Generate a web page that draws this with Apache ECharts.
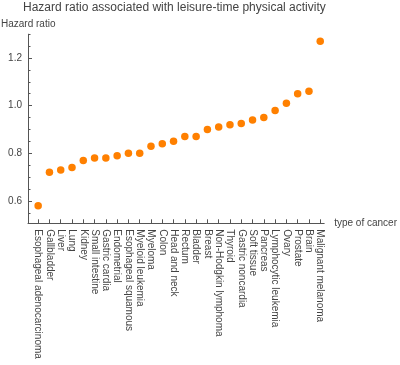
<!DOCTYPE html>
<html>
<head>
<meta charset="utf-8">
<script src="https://cdn.jsdelivr.net/npm/echarts@6/dist/echarts.min.js"></script>
<style>
html,body{margin:0;padding:0;background:#fff;}
#chart{width:400px;height:365px;}
</style>
</head>
<body>
<div id="chart"></div>
<script>
var categories = ["Esophageal adenocarcinoma","Gallbladder","Liver","Lung","Kidney","Small intestine","Gastric cardia","Endometrial","Esophageal squamous","Myeloid leukemia","Myeloma","Colon","Head and neck","Rectum","Bladder","Breast","Non-Hodgkin lymphoma","Thyroid","Gastric noncardia","Soft tissue","Pancreas","Lymphocytic leukemia","Ovary","Prostate","Brain","Malignant melanoma"];
var hazardRatios = [0.58,0.72,0.73,0.74,0.77,0.78,0.78,0.79,0.80,0.80,0.83,0.84,0.85,0.87,0.87,0.90,0.91,0.92,0.925,0.94,0.95,0.98,1.01,1.05,1.06,1.27];
var yMajorTicks = [0.6,0.8,1.0,1.2];
var yMinorTicks = [0.55,0.65,0.7,0.75,0.85,0.9,0.95,1.05,1.1,1.15,1.25,1.3];

var positions = categories.map(function(c,i){return i+1;});
var points = hazardRatios.map(function(v,i){return [positions[i], v];});

var axisColor = '#555';
var textColor = '#444';
var font = 'Liberation Sans, Arial, sans-serif';

var chart = echarts.init(document.getElementById('chart'), null, {renderer:'canvas'});
chart.setOption({
  animation:false,
  backgroundColor:'#fff',
  title:[
    {text:'Hazard ratio associated with leisure-time physical activity', left:23, top:1.5, padding:0,
     textStyle:{fontSize:12, fontWeight:'normal', color:textColor, fontFamily:font}},
    {text:'Hazard ratio', left:1, top:19, padding:0,
     textStyle:{fontSize:10, fontWeight:'normal', color:textColor, fontFamily:font}}
  ],
  grid:{left:28, right:75, top:34.2, bottom:141.7, containLabel:false},
  xAxis:{
    type:'value', min:0.1, max:26.35,
    name:'type of cancer', nameLocation:'end', nameGap:10,
    nameTextStyle:{fontSize:10, color:textColor, fontFamily:font},
    axisLine:{show:true, onZero:false, lineStyle:{color:axisColor, width:1}},
    axisTick:{show:true, inside:true, length:4, customValues:positions, lineStyle:{color:axisColor}},
    axisLabel:{show:true, rotate:-90, margin:6, fontSize:10, color:textColor, fontFamily:font,
      customValues:positions,
      formatter:function(v){var k=Math.round(v); return (Math.abs(v-k)<1e-6 && categories[k-1]) ? categories[k-1] : '';}},
    splitLine:{show:false}
  },
  yAxis:[
    {type:'value', min:0.506, max:1.3,
     axisLine:{show:true, onZero:false, lineStyle:{color:axisColor, width:1}},
     axisTick:{show:true, inside:true, length:4, customValues:yMajorTicks, lineStyle:{color:axisColor}},
     axisLabel:{show:true, margin:6, fontSize:10, color:textColor, fontFamily:font, customValues:yMajorTicks,
       formatter:function(v){return v.toFixed(1);}},
     splitLine:{show:false}},
    {type:'value', min:0.506, max:1.3, position:'left',
     axisLine:{show:false},
     axisTick:{show:true, inside:true, length:2.5, customValues:yMinorTicks, lineStyle:{color:axisColor}},
     axisLabel:{show:false},
     splitLine:{show:false}}
  ],
  series:[{
    type:'scatter', data:points, symbol:'circle', symbolSize:7.5,
    itemStyle:{color:'#ff8000', opacity:1}, xAxisIndex:0, yAxisIndex:0
  }]
});
</script>
</body>
</html>
